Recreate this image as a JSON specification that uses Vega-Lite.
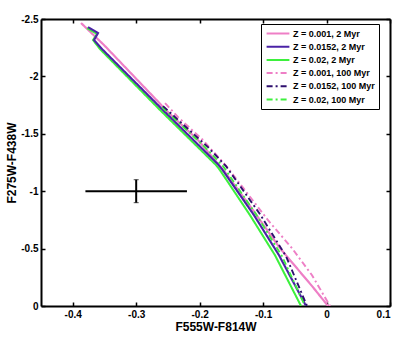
{
  "$schema": "https://vega.github.io/schema/vega-lite/v6.json",
  "width": 349,
  "height": 287,
  "autosize": {"type": "none"},
  "padding": {"left": 41, "top": 19, "right": 26, "bottom": 33},
  "background": "white",
  "config": {
    "view": {"stroke": null},
    "font": "Liberation Sans",
    "axis": {
      "domainColor": "black", "domainWidth": 2, "tickColor": "black", "tickWidth": 1.5, "tickSize": -4,
      "labelFont": "Liberation Sans", "labelFontSize": 10, "labelFontWeight": "bold", "labelColor": "black",
      "labelPadding": 7, "titleFont": "Liberation Sans", "titleFontSize": 12, "titleFontWeight": "bold",
      "titleColor": "black", "grid": false
    },
    "legend": {
      "title": null, "symbolType": "stroke", "symbolStrokeWidth": 2, "symbolSize": 520, "clipHeight": 11,
      "labelFontSize": 9, "labelFontWeight": "bold", "labelFont": "Liberation Sans", "labelColor": "black",
      "strokeColor": "black", "fillColor": "white", "padding": 4, "rowPadding": 2.2, "labelOffset": 2, "labelLimit": 200,
      "labelExpr": "datum.label + '    '"
    }
  },
  "layer": [
    {
      "layer": [
        {
          "data": {"values": [
            {"s": "Z = 0.001, 2 Myr", "i": 1, "x": -0.3869, "y": -2.465},
            {"s": "Z = 0.001, 2 Myr", "i": 2, "x": -0.3507, "y": -2.273},
            {"s": "Z = 0.001, 2 Myr", "i": 3, "x": -0.2482, "y": -1.680},
            {"s": "Z = 0.001, 2 Myr", "i": 4, "x": -0.2025, "y": -1.445},
            {"s": "Z = 0.001, 2 Myr", "i": 5, "x": -0.1600, "y": -1.166},
            {"s": "Z = 0.001, 2 Myr", "i": 6, "x": -0.1158, "y": -0.834},
            {"s": "Z = 0.001, 2 Myr", "i": 7, "x": -0.0733, "y": -0.503},
            {"s": "Z = 0.001, 2 Myr", "i": 8, "x": -0.0213, "y": -0.163},
            {"s": "Z = 0.001, 2 Myr", "i": 9, "x": 0.0024, "y": 0},
            {"s": "Z = 0.02, 2 Myr", "i": 1, "x": -0.3775, "y": -2.421},
            {"s": "Z = 0.02, 2 Myr", "i": 2, "x": -0.3617, "y": -2.369},
            {"s": "Z = 0.02, 2 Myr", "i": 3, "x": -0.3680, "y": -2.317},
            {"s": "Z = 0.02, 2 Myr", "i": 4, "x": -0.3570, "y": -2.238},
            {"s": "Z = 0.02, 2 Myr", "i": 5, "x": -0.2624, "y": -1.707},
            {"s": "Z = 0.02, 2 Myr", "i": 6, "x": -0.1742, "y": -1.228},
            {"s": "Z = 0.02, 2 Myr", "i": 7, "x": -0.1679, "y": -1.183},
            {"s": "Z = 0.02, 2 Myr", "i": 8, "x": -0.1206, "y": -0.791},
            {"s": "Z = 0.02, 2 Myr", "i": 9, "x": -0.0812, "y": -0.442},
            {"s": "Z = 0.02, 2 Myr", "i": 10, "x": -0.0402, "y": 0},
            {"s": "Z = 0.0152, 2 Myr", "i": 1, "x": -0.3759, "y": -2.430},
            {"s": "Z = 0.0152, 2 Myr", "i": 2, "x": -0.3601, "y": -2.378},
            {"s": "Z = 0.0152, 2 Myr", "i": 3, "x": -0.3664, "y": -2.317},
            {"s": "Z = 0.0152, 2 Myr", "i": 4, "x": -0.3538, "y": -2.238},
            {"s": "Z = 0.0152, 2 Myr", "i": 5, "x": -0.2593, "y": -1.715},
            {"s": "Z = 0.0152, 2 Myr", "i": 6, "x": -0.1711, "y": -1.235},
            {"s": "Z = 0.0152, 2 Myr", "i": 7, "x": -0.1647, "y": -1.192},
            {"s": "Z = 0.0152, 2 Myr", "i": 8, "x": -0.1143, "y": -0.791},
            {"s": "Z = 0.0152, 2 Myr", "i": 9, "x": -0.0749, "y": -0.442},
            {"s": "Z = 0.0152, 2 Myr", "i": 10, "x": -0.0323, "y": 0},
            {"s": "Z = 0.001, 100 Myr", "i": 1, "x": -0.2545, "y": -1.767},
            {"s": "Z = 0.001, 100 Myr", "i": 2, "x": -0.2340, "y": -1.645},
            {"s": "Z = 0.001, 100 Myr", "i": 3, "x": -0.1946, "y": -1.445},
            {"s": "Z = 0.001, 100 Myr", "i": 4, "x": -0.1552, "y": -1.200},
            {"s": "Z = 0.001, 100 Myr", "i": 5, "x": -0.0922, "y": -0.747},
            {"s": "Z = 0.001, 100 Myr", "i": 6, "x": -0.0544, "y": -0.503},
            {"s": "Z = 0.001, 100 Myr", "i": 7, "x": -0.0229, "y": -0.268},
            {"s": "Z = 0.001, 100 Myr", "i": 8, "x": 0.0055, "y": 0},
            {"s": "Z = 0.02, 100 Myr", "i": 1, "x": -0.2593, "y": -1.732},
            {"s": "Z = 0.02, 100 Myr", "i": 2, "x": -0.1915, "y": -1.384},
            {"s": "Z = 0.02, 100 Myr", "i": 3, "x": -0.1631, "y": -1.218},
            {"s": "Z = 0.02, 100 Myr", "i": 4, "x": -0.1111, "y": -0.799},
            {"s": "Z = 0.02, 100 Myr", "i": 5, "x": -0.0701, "y": -0.433},
            {"s": "Z = 0.02, 100 Myr", "i": 6, "x": -0.0339, "y": 0},
            {"s": "Z = 0.0152, 100 Myr", "i": 1, "x": -0.2577, "y": -1.741},
            {"s": "Z = 0.0152, 100 Myr", "i": 2, "x": -0.1868, "y": -1.384},
            {"s": "Z = 0.0152, 100 Myr", "i": 3, "x": -0.1584, "y": -1.218},
            {"s": "Z = 0.0152, 100 Myr", "i": 4, "x": -0.1048, "y": -0.799},
            {"s": "Z = 0.0152, 100 Myr", "i": 5, "x": -0.0638, "y": -0.433},
            {"s": "Z = 0.0152, 100 Myr", "i": 6, "x": -0.0307, "y": 0}
          ]},
          "mark": {"type": "line", "clip": true},
          "encoding": {
            "x": {"field": "x", "type": "quantitative", "title": "F555W-F814W",
              "scale": {"domain": [-0.45, 0.1], "nice": false, "zero": false},
              "axis": {"orient": "bottom", "values": [-0.4, -0.3, -0.2, -0.1, 0, 0.1], "labelExpr": "toString(datum.value)", "titlePadding": 2}},
            "y": {"field": "y", "type": "quantitative", "title": "F275W-F438W",
              "scale": {"domain": [-2.5, 0], "reverse": true, "nice": false, "zero": false},
              "axis": {"orient": "left", "values": [-2.5, -2, -1.5, -1, -0.5, 0], "labelExpr": "toString(datum.value)", "titlePadding": 2}},
            "color": {"field": "s", "type": "nominal",
              "scale": {"domain": ["Z = 0.001, 2 Myr", "Z = 0.0152, 2 Myr", "Z = 0.02, 2 Myr", "Z = 0.001, 100 Myr", "Z = 0.0152, 100 Myr", "Z = 0.02, 100 Myr"],
                "range": ["#ee7fc6", "#4a22a6", "#3df03d", "#ee7fc6", "#2e0f6e", "#3df03d"]},
              "legend": {"orient": "none", "legendX": 220, "legendY": 5}},
            "strokeDash": {"field": "s", "type": "nominal",
              "scale": {"domain": ["Z = 0.001, 2 Myr", "Z = 0.0152, 2 Myr", "Z = 0.02, 2 Myr", "Z = 0.001, 100 Myr", "Z = 0.0152, 100 Myr", "Z = 0.02, 100 Myr"],
                "range": [[1, 0], [1, 0], [1, 0], [6, 3, 2, 3], [6, 3, 2, 3], [6, 3, 2, 3]]},
              "legend": {"orient": "none", "legendX": 220, "legendY": 5}},
            "strokeWidth": {"field": "s", "type": "nominal",
              "scale": {"domain": ["Z = 0.001, 2 Myr", "Z = 0.0152, 2 Myr", "Z = 0.02, 2 Myr", "Z = 0.001, 100 Myr", "Z = 0.0152, 100 Myr", "Z = 0.02, 100 Myr"],
                "range": [2.2, 1.8, 3.2, 2.2, 2.2, 2.5]},
              "legend": {"orient": "none", "legendX": 220, "legendY": 5}},
            "order": {"field": "i", "type": "quantitative"}
          }
        },
        {
          "data": {"values": [{"x": -0.3, "y": -1, "xlo": -0.38, "xhi": -0.22, "ylo": -1.1, "yhi": -0.9}]},
          "layer": [
            {
              "mark": {"type": "rule", "strokeWidth": 2, "color": "black"},
              "encoding": {
                "x": {"field": "xlo", "type": "quantitative", "title": "F555W-F814W"},
                "x2": {"field": "xhi"},
                "y": {"field": "y", "type": "quantitative", "title": "F275W-F438W"}
              }
            },
            {
              "mark": {"type": "errorbar", "color": "black", "ticks": {"size": 5, "strokeWidth": 2}, "rule": {"strokeWidth": 2}},
              "encoding": {
                "x": {"field": "x", "type": "quantitative", "title": "F555W-F814W"},
                "y": {"field": "ylo", "type": "quantitative", "title": "F275W-F438W"},
                "y2": {"field": "yhi"}
              }
            }
          ]
        }
      ]
    },
    {
      "data": {"values": [{"x": 0, "y": 0}]},
      "mark": {"type": "point", "opacity": 0},
      "encoding": {
        "x": {"field": "x", "type": "quantitative",
          "scale": {"domain": [-0.45, 0.1], "nice": false, "zero": false},
          "axis": {"orient": "top", "values": [-0.4, -0.3, -0.2, -0.1, 0, 0.1], "labels": false, "title": null}},
        "y": {"field": "y", "type": "quantitative",
          "scale": {"domain": [-2.5, 0], "reverse": true, "nice": false, "zero": false},
          "axis": {"orient": "right", "values": [-2.5, -2, -1.5, -1, -0.5, 0], "labels": false, "title": null}}
      }
    }
  ],
  "resolve": {"scale": {"x": "independent", "y": "independent"}}
}
